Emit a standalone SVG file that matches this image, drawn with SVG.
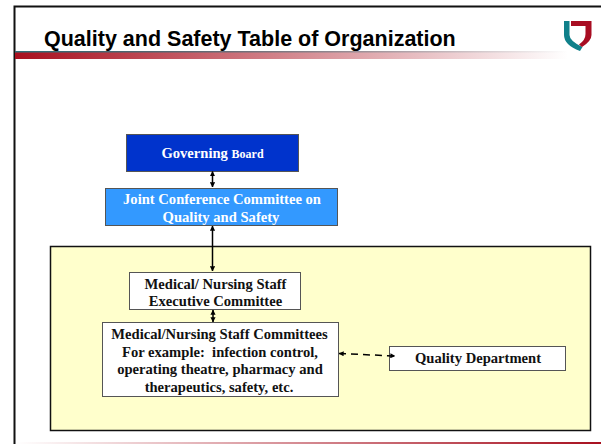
<svg xmlns="http://www.w3.org/2000/svg" width="601" height="444" viewBox="0 0 601 444">
<style>
text{font-family:"Liberation Serif","Times New Roman",serif;font-weight:bold;font-size:14.6px;text-anchor:middle;fill:#111;white-space:pre}
.w{fill:#fff}
.box{stroke:#555;stroke-width:1}
.c{fill:none;stroke:#000;stroke-width:1.500}
</style>
<defs>
<linearGradient id="g1"><stop offset="0" stop-color="#a8101f"/><stop offset="1" stop-color="#a8101f" stop-opacity="0"/></linearGradient>
<linearGradient id="g2"><stop offset="0" stop-color="#a8101f" stop-opacity="0"/><stop offset="1" stop-color="#a8101f"/></linearGradient>
<linearGradient id="g3"><stop offset="0" stop-color="#2f6f78"/><stop offset="1" stop-color="#2f6f78" stop-opacity="0"/></linearGradient>
<marker id="a" viewBox="0 0 6 6" refX="5.500" refY="3" markerWidth="3.400" markerHeight="3.400" orient="auto-start-reverse" markerUnits="strokeWidth"><path d="M0 0L6 3L0 6z" fill="#000"/></marker>
</defs>
<rect width="601" height="444" fill="#fff"/>
<g id="frame">
<path d="M14.500 444V6.500H601" fill="none" stroke="#111" stroke-width="2"/>
<rect x="15" y="51" width="553" height="8" fill="url(#g1)"/>
<rect x="15" y="51" width="553" height="1.500" fill="url(#g3)"/>
<rect x="15" y="442" width="586" height="2" fill="url(#g2)"/>
<text x="44" y="45.500" style="font-family:'Liberation Sans',Arial,sans-serif;font-size:21.500px;text-anchor:start;fill:#000">Quality and Safety Table of Organization</text>
</g>
<g id="logo">
<path d="M564 21H569.500V35Q569.500 41 582.500 47L580 51Q564 45 564 35Z" fill="#10808a"/>
<path d="M571 21H591.500V35Q591.500 41 582 47L579 44.500Q585.500 40 585.500 34V26H571Z" fill="#a80d22"/>
</g>
<g id="region"><rect x="50.500" y="246.500" width="540" height="184" fill="#ffffcc" stroke="#111" stroke-width="1.500"/></g>
<g id="governing-board">
<rect class="box" x="126.500" y="134.500" width="172" height="37" fill="#0033cc" stroke="#222"/>
<text class="w" x="212.500" y="158">Governing <tspan font-size="12">Board</tspan></text>
</g>
<g id="joint-conference">
<rect class="box" x="105.500" y="188.500" width="232" height="37" fill="#3399ff"/>
<text class="w" x="222" y="204">Joint Conference Committee on</text>
<text class="w" x="221" y="221.500">Quality and Safety</text>
</g>
<g id="executive-committee">
<rect class="box" x="129.500" y="272.500" width="171" height="37" fill="#fff"/>
<text x="215.500" y="288.500">Medical/ Nursing Staff</text>
<text x="215.500" y="305.500">Executive Committee</text>
</g>
<g id="staff-committees">
<rect class="box" x="102.500" y="322.500" width="236" height="74" fill="#fff"/>
<text x="219.500" y="339">Medical/Nursing Staff Committees</text>
<text x="220" y="356.500">For example:  infection control,</text>
<text x="220" y="374">operating theatre, pharmacy and</text>
<text x="219" y="391.500">therapeutics, safety, etc.</text>
</g>
<g id="quality-department">
<rect class="box" x="389.500" y="346.500" width="176" height="24" fill="#fff"/>
<text x="478" y="363">Quality Department</text>
</g>
<g id="connectors">
<path class="c" d="M212.500 171.500V187" marker-start="url(#a)" marker-end="url(#a)"/>
<path class="c" d="M212.500 226V271" marker-start="url(#a)" marker-end="url(#a)"/>
<path class="c" d="M213 310V322" marker-start="url(#a)" marker-end="url(#a)"/>
<path class="c" d="M339 353.500L395 356" stroke-width="2" stroke-dasharray="7 5" marker-start="url(#a)" marker-end="url(#a)"/>
</g>
</svg>
